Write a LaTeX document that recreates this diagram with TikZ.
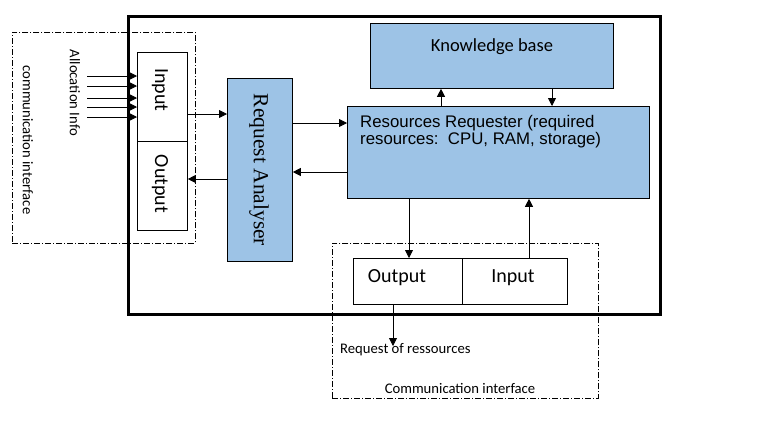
\documentclass[tikz,border=0pt]{standalone}
\usepackage{fontspec}
\setmainfont{Carlito}
\newfontfamily\ari{Liberation Sans}
\newfontfamily\tim{Liberation Serif}
\usetikzlibrary{arrows.meta}
\definecolor{boxblue}{RGB}{157,195,230}
\tikzset{
  box/.style={draw, line width=0.8pt, anchor=north west, inner sep=0pt},
  bluebox/.style={box, fill=boxblue},
  arr/.style={line width=0.8pt, -{Triangle[length=8pt,width=8pt]}},
  dd/.style={line width=0.6pt, dash pattern=on 6pt off 2pt on 1pt off 2pt},
  txt/.style={inner sep=0pt, font=\fontsize{14.67}{17}\selectfont},
  big/.style={inner sep=0pt, font=\fontsize{20}{24}\selectfont}
}
\begin{document}
\begin{tikzpicture}[x=1pt,y=-1pt]
\useasboundingbox (0,0) rectangle (767,424);
% main box
\node[box, line width=3pt, minimum width=532pt, minimum height=298pt] (main) at (127,15) {};
% left communication interface
\node[box, dd, minimum width=183pt, minimum height=211pt] (lci) at (12,32) {};
\node[box, fill=white, minimum width=50pt, minimum height=89pt] (inbox) at (137,52) {};
\node[box, fill=white, minimum width=50pt, minimum height=89pt] (outbox) at (137,141) {};
\node[big, rotate=-90] (inlbl) at (160,90) {Input};
\node[big, rotate=-90] (outlbl) at (160,184) {Output};
\node[txt, rotate=-90] (alloc) at (75,93) {Allocation Info};
\node[txt, rotate=-90] (lcilbl) at (28,140) {communication interface};
\foreach \yy/\nm in {76/a,86/b,98/c,107/d,117/e}{
  \coordinate (src\nm) at (87,\yy);
  \draw[arr] (src\nm) -- (inbox.west |- src\nm);
}
% Request analyser
\node[bluebox, minimum width=65pt, minimum height=183pt] (ra) at (227,78) {};
\node[inner sep=0pt, rotate=-90, font=\tim\fontsize{21.5}{24}\selectfont] (ralbl) at (259,170) {Request Analyser};
\draw[arr] (inbox.east |- 0,114) -- (ra.west |- 0,114);
\draw[arr] (ra.west |- 0,179) -- (outbox.east |- 0,179);
% knowledge base & requester
\node[bluebox, minimum width=243pt, minimum height=65pt] (kb) at (370,23) {};
\node[inner sep=0pt, font=\fontsize{18.5}{22}\selectfont] (kblbl) at (492,47) {Knowledge base};
\node[bluebox, minimum width=302pt, minimum height=92pt] (rr) at (347,106) {};
\node[inner sep=0pt, anchor=base west, align=left, font=\ari\fontsize{16.8}{17}\selectfont] (rrlbl) at (360,144) {Resources Requester (required\\resources:\ \ CPU, RAM, storage)};
\draw[arr] (rr.north -| 441,0) -- (kb.south -| 441,0);
\draw[arr] (kb.south -| 552,0) -- (rr.north -| 552,0);
\draw[arr] (ra.east |- 0,123) -- (rr.west |- 0,123);
\draw[arr] (rr.west |- 0,172) -- (ra.east |- 0,172);
% bottom communication interface
\node[box, dd, minimum width=266pt, minimum height=155pt] (bci) at (332,243) {};
\node[box, fill=white, minimum width=109pt, minimum height=46pt] (bout) at (353,258) {};
\node[box, fill=white, minimum width=105pt, minimum height=46pt] (bin) at (462,258) {};
\node[big] (boutlbl) at (397,278) {Output};
\node[big] (binlbl) at (513,278) {Input};
\draw[arr] (rr.south -| 409,0) -- (bout.north -| 409,0);
\draw[arr] (bin.north -| 529,0) -- (rr.south -| 529,0);
\coordinate (req) at (393,346);
\draw[arr] (bout.south -| req) -- (req);
\node[txt, anchor=west] (reqlbl) at (340,350) {Request of ressources};
\node[txt] (bcilbl) at (460,388) {Communication interface};
\end{tikzpicture}
\end{document}
